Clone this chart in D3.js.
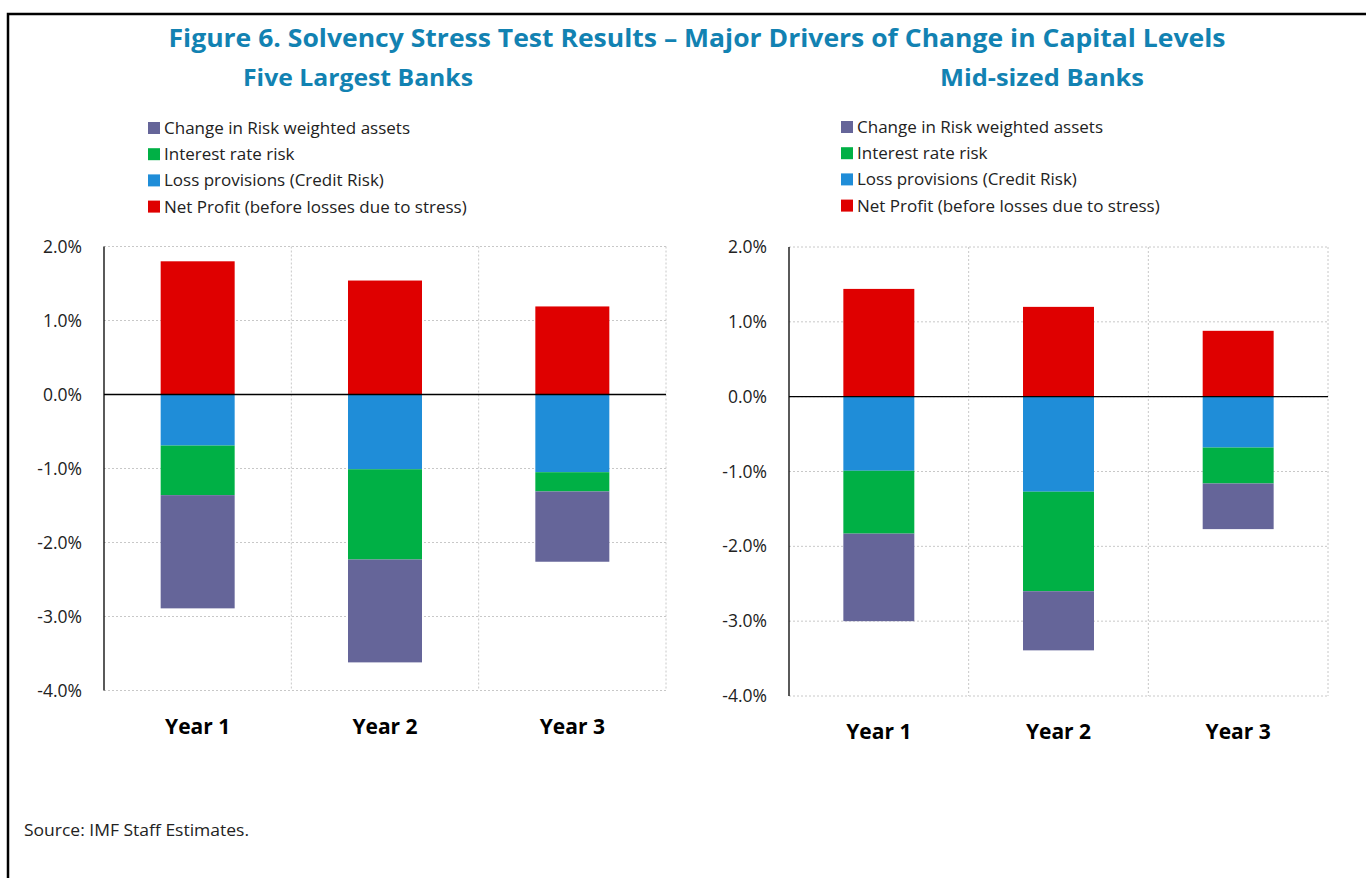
<!DOCTYPE html>
<html>
<head>
<meta charset="utf-8">
<script src="https://cdn.jsdelivr.net/npm/d3@7"></script>
<style>
  body { margin: 0; background: #fff; }
  svg { display: block; font-family: "Open Sans", "Noto Sans", sans-serif; }
</style>
</head>
<body>
<svg id="chart" width="1366" height="878"></svg>
<script>
// categories and series (percent of RWA)
var years = ["Year 1", "Year 2", "Year 3"]
var seriesKeys = ["loss", "irr", "rwa", "profit"]   // stacking order from zero outwards
var legendKeys = ["rwa", "irr", "loss", "profit"]   // order in the legend
var seriesNames = {
  rwa: "Change in Risk weighted assets",
  irr: "Interest rate risk",
  loss: "Loss provisions (Credit Risk)",
  profit: "Net Profit (before losses due to stress)"
}
var seriesColors = { rwa: "#656599", irr: "#00b045", loss: "#1f8dd8", profit: "#df0000" }

// Five largest banks
var largeRWA = [-1.53, -1.39, -0.95]
var largeIRR = [-0.67, -1.22, -0.26]
var largeLoss = [-0.69, -1.01, -1.05]
var largeProfit = [1.80, 1.54, 1.19]

// Mid-sized banks
var midRWA = [-1.17, -0.79, -0.61]
var midIRR = [-0.84, -1.33, -0.48]
var midLoss = [-0.99, -1.27, -0.68]
var midProfit = [1.44, 1.20, 0.88]

var yTicks = [2, 1, 0, -1, -2, -3, -4]

var svg = d3.select("#chart")
var titleColor = "#1282b2"

// frame (only top and left edges show)
svg.append("path")
  .attr("d", "M8,878 L8,14 L1366,14")
  .attr("fill", "none")
  .attr("stroke", "#000")
  .attr("stroke-width", 2.5)

svg.append("text")
  .attr("x", 697).attr("y", 47)
  .attr("text-anchor", "middle")
  .attr("font-size", 25).attr("font-weight", "bold")
  .attr("fill", titleColor)
  .attr("textLength", 1057).attr("lengthAdjust", "spacingAndGlyphs")
  .text("Figure 6. Solvency Stress Test Results \u2013 Major Drivers of Change in Capital Levels")

svg.append("text")
  .attr("x", 24).attr("y", 836)
  .attr("font-size", 16.5).attr("fill", "#222")
  .attr("textLength", 225).attr("lengthAdjust", "spacingAndGlyphs")
  .text("Source: IMF Staff Estimates.")

function makeRows(rwa, irr, loss, profit) {
  return years.map(function (y, i) {
    return { year: y, rwa: rwa[i], irr: irr[i], loss: loss[i], profit: profit[i] }
  })
}

// plain hyphen for negatives, like the original
var pct = function (d) { return d3.format(".1f")(d).replace("\u2212", "-") + "%" }

function drawPanel(opt) {
  var g = svg.append("g")

  // subtitle
  g.append("text")
    .attr("x", opt.titleX).attr("y", 86)
    .attr("text-anchor", "middle")
    .attr("font-size", 23).attr("font-weight", "bold")
    .attr("fill", titleColor)
    .attr("textLength", opt.titleW).attr("lengthAdjust", "spacingAndGlyphs")
    .text(opt.title)

  // legend
  var legend = g.selectAll(".legenditem")
    .data(legendKeys)
    .enter().append("g")
    .attr("transform", function (d, i) { return "translate(" + opt.legendX + "," + (opt.legendY + i * 26.2) + ")" })
  legend.append("rect")
    .attr("x", 0).attr("y", -6).attr("width", 12).attr("height", 12)
    .attr("fill", function (d) { return seriesColors[d] })
  legend.append("text")
    .attr("x", 16).attr("y", 6)
    .attr("font-size", 17).attr("fill", "#222")
    .text(function (d) { return seriesNames[d] })

  var x = d3.scaleBand().domain(years).range([opt.left, opt.right]).paddingInner(0.605).paddingOuter(0.3025)
  var xCell = d3.scaleBand().domain(years).range([opt.left, opt.right])
  var y = d3.scaleLinear().domain([2, -4]).range([opt.top, opt.bottom])

  // dotted grid
  g.selectAll(".hgrid").data(yTicks).enter().append("line")
    .attr("x1", opt.left).attr("x2", opt.right)
    .attr("y1", function (d) { return y(d) }).attr("y2", function (d) { return y(d) })
    .attr("stroke", "#c8c8c8").attr("stroke-dasharray", "2,2")
  g.selectAll(".vgrid").data(years).enter().append("line")
    .attr("x1", function (d) { return xCell(d) + xCell.bandwidth() })
    .attr("x2", function (d) { return xCell(d) + xCell.bandwidth() })
    .attr("y1", opt.top).attr("y2", opt.bottom)
    .attr("stroke", "#c8c8c8").attr("stroke-dasharray", "2,2")

  // stacked bars
  var stacked = d3.stack().keys(seriesKeys).offset(d3.stackOffsetDiverging)(opt.rows)
  g.selectAll(".series").data(stacked).enter().append("g")
    .attr("fill", function (d) { return seriesColors[d.key] })
    .selectAll("rect").data(function (d) { return d }).enter().append("rect")
    .attr("x", function (d) { return x(d.data.year) })
    .attr("width", x.bandwidth())
    .attr("y", function (d) { return y(Math.max(d[0], d[1])) })
    .attr("height", function (d) { return Math.abs(y(d[0]) - y(d[1])) })

  // zero line and y axis line
  g.append("line")
    .attr("x1", opt.left).attr("x2", opt.right)
    .attr("y1", y(0)).attr("y2", y(0))
    .attr("stroke", "#000").attr("stroke-width", 1.3)
  g.append("line")
    .attr("x1", opt.left).attr("x2", opt.left)
    .attr("y1", opt.top).attr("y2", opt.bottom)
    .attr("stroke", "#000").attr("stroke-width", 1.3)

  // tick labels
  g.selectAll(".ylab").data(yTicks).enter().append("text")
    .attr("x", opt.left - 22).attr("y", function (d) { return y(d) + 6 })
    .attr("text-anchor", "end")
    .attr("font-size", 17.5).attr("fill", "#222")
    .text(pct)

  g.selectAll(".xlab").data(years).enter().append("text")
    .attr("x", function (d) { return x(d) + x.bandwidth() / 2 })
    .attr("y", opt.bottom + 43)
    .attr("text-anchor", "middle")
    .attr("font-size", 21).attr("font-weight", "bold").attr("fill", "#000")
    .text(function (d) { return d })
}

drawPanel({
  title: "Five Largest Banks", titleX: 358, titleW: 230,
  legendX: 148, legendY: 128,
  left: 104, right: 666, top: 246.5, bottom: 690.5,
  rows: makeRows(largeRWA, largeIRR, largeLoss, largeProfit)
})

drawPanel({
  title: "Mid-sized Banks", titleX: 1042, titleW: 204,
  legendX: 841, legendY: 127,
  left: 789, right: 1328, top: 247, bottom: 696,
  rows: makeRows(midRWA, midIRR, midLoss, midProfit)
})
</script>
</body>
</html>
